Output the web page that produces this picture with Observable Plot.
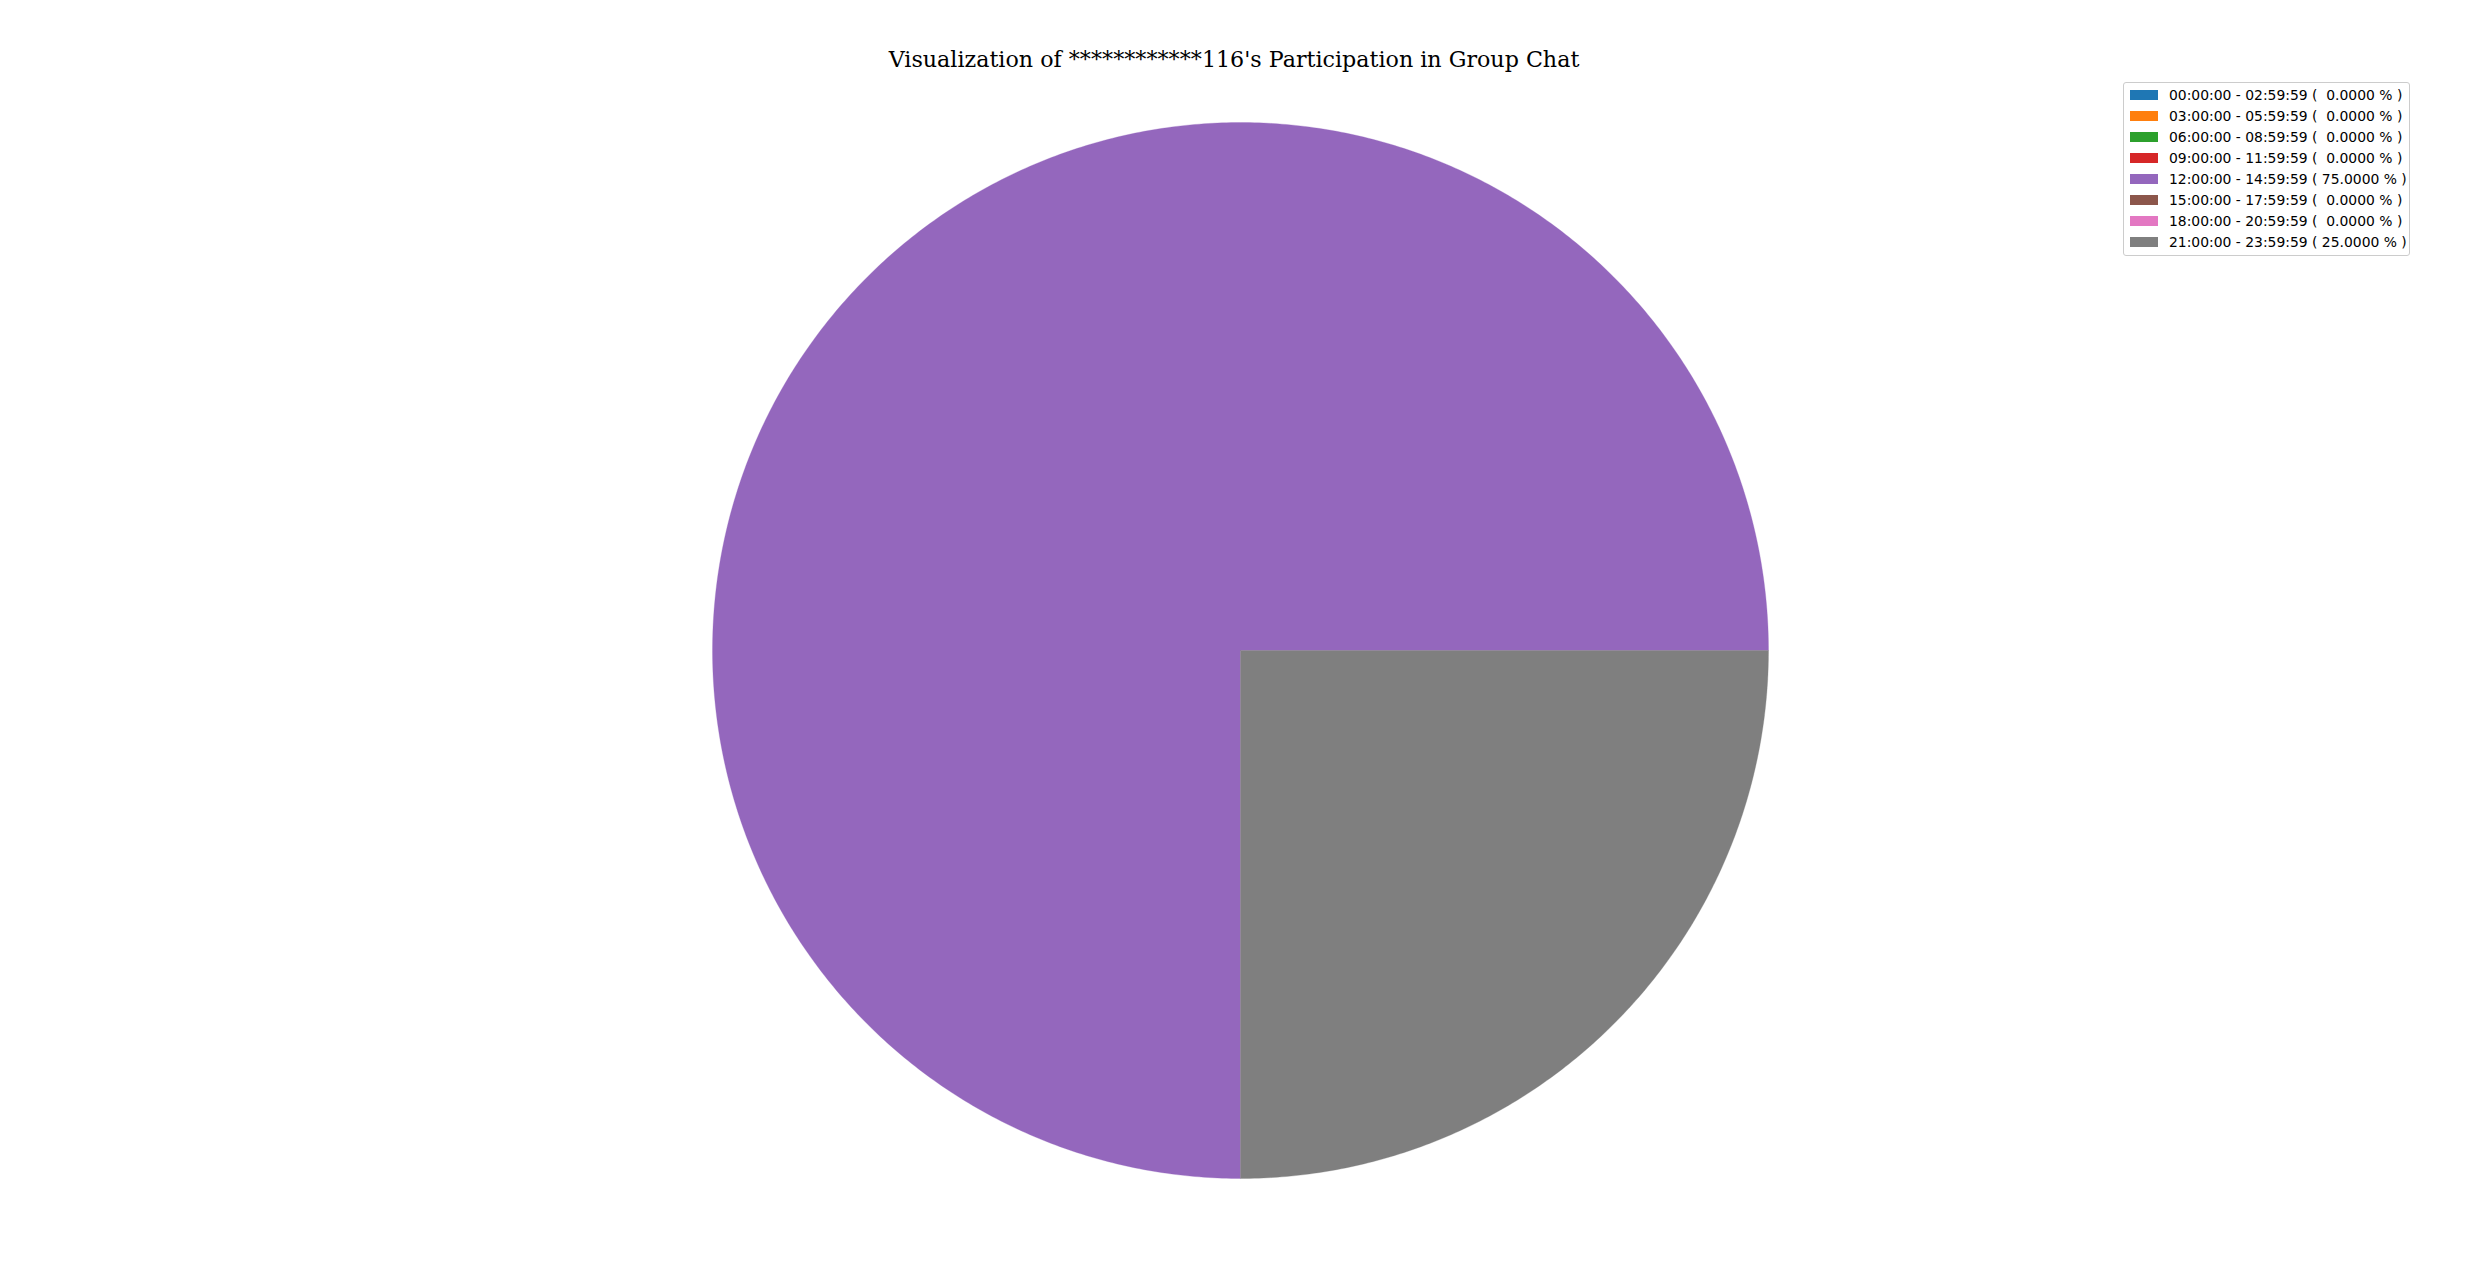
<!DOCTYPE html>
<html>
<head>
<meta charset="utf-8">
<script src="https://cdn.jsdelivr.net/npm/d3@7"></script>
<script src="https://cdn.jsdelivr.net/npm/@observablehq/plot@0.6"></script>
<style>
  html, body { margin: 0; padding: 0; background: #fff; }
  #wrap { position: relative; width: 2470px; height: 1270px; overflow: hidden; }
  #title { position: absolute; left: 0; width: 2470px; top: 46px; text-align: center;
           font-family: "DejaVu Serif", serif; font-size: 22.2px; color: #000; line-height: 26px; }
  #title span { position: relative; left: -1px; }
  #legend { position: absolute; left: 2123px; top: 82px; width: 285px; box-sizing: content-box;
            border: 1px solid #cccccc; border-radius: 3px; background: rgba(255,255,255,0.8);
            padding: 1px 0 3px 0; font-family: "DejaVu Sans", sans-serif; font-size: 13.9px; color: #000; }
  .row { height: 21px; display: flex; align-items: center; white-space: pre; }
  .sw { width: 28px; height: 10px; margin-left: 6px; margin-right: 11px; flex: none; }
</style>
</head>
<body>
<div id="wrap">
  <div id="chart"></div>
  <div id="title"><span>Visualization of ************116's Participation in Group Chat</span></div>
  <div id="legend"></div>
</div>
<script>
const timeRanges = [
  "00:00:00 - 02:59:59",
  "03:00:00 - 05:59:59",
  "06:00:00 - 08:59:59",
  "09:00:00 - 11:59:59",
  "12:00:00 - 14:59:59",
  "15:00:00 - 17:59:59",
  "18:00:00 - 20:59:59",
  "21:00:00 - 23:59:59"
];
const percentages = [0, 0, 0, 0, 75, 0, 0, 25];
const colors = ["#1f77b4", "#ff7f0e", "#2ca02c", "#d62728", "#9467bd", "#8c564b", "#e377c2", "#7f7f7f"];

// Build wedge outlines (unit circle, counterclockwise from 3 o'clock like matplotlib)
const total = d3.sum(percentages);
const wedges = [];
let acc = 0;
timeRanges.forEach((label, i) => {
  const v = percentages[i];
  if (v <= 0) return;
  const a0 = (acc / total) * 2 * Math.PI;
  const a1 = ((acc + v) / total) * 2 * Math.PI;
  acc += v;
  const n = Math.max(2, Math.ceil((a1 - a0) / (Math.PI / 360)));
  wedges.push({label, x: 0, y: 0});
  for (let k = 0; k <= n; k++) {
    const a = a0 + (a1 - a0) * k / n;
    wedges.push({label, x: Math.cos(a), y: Math.sin(a)});
  }
  wedges.push({label, x: 0, y: 0});
});

const cx = 1240, cy = 650, r = 528;
const chart = Plot.plot({
  width: 2470,
  height: 1270,
  margin: 0,
  x: {domain: [-1, 1], range: [cx - r, cx + r], axis: null},
  y: {domain: [-1, 1], range: [cy + r, cy - r], axis: null},
  color: {domain: timeRanges, range: colors},
  marks: [
    Plot.line(wedges, {x: "x", y: "y", z: "label", fill: "label", stroke: "label", strokeWidth: 0.3, curve: "linear"})
  ]
});
document.getElementById("chart").appendChild(chart);

const legend = document.getElementById("legend");
timeRanges.forEach((label, i) => {
  const row = document.createElement("div");
  row.className = "row";
  const sw = document.createElement("div");
  sw.className = "sw";
  sw.style.background = colors[i];
  const txt = document.createElement("span");
  txt.textContent = `${label} ( ${percentages[i].toFixed(4).padStart(7, " ")} % )`;
  row.appendChild(sw);
  row.appendChild(txt);
  legend.appendChild(row);
});
</script>
</body>
</html>
